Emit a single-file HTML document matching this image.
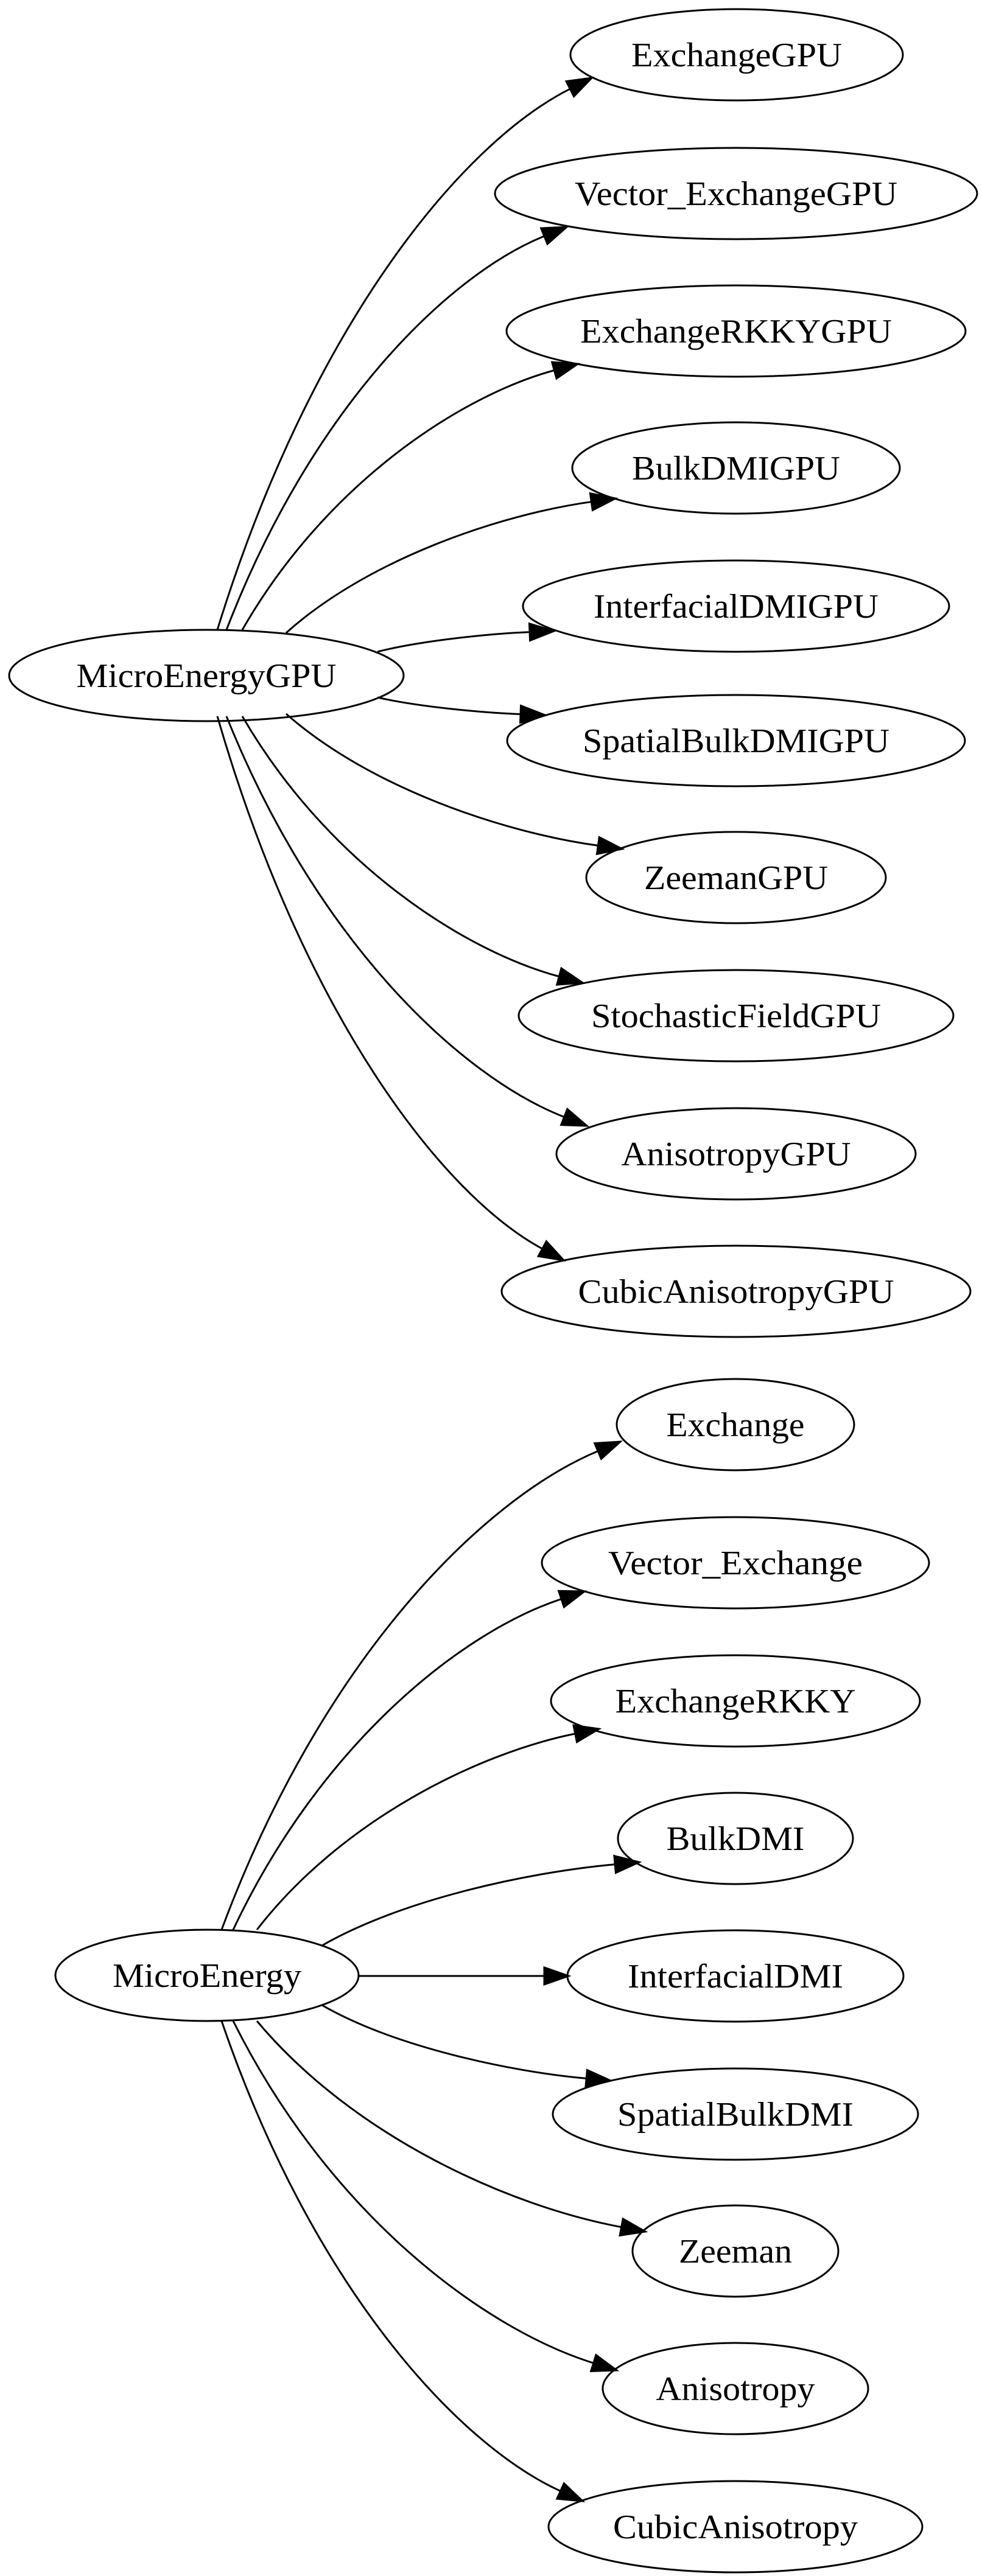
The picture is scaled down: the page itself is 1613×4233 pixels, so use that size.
<!DOCTYPE html>
<html><head><meta charset="utf-8"><style>
html,body{margin:0;padding:0;background:#fff;}
svg{display:block;}
text{font-family:"Liberation Serif",serif;font-size:56px;fill:#000;}
</style></head><body>
<svg id="g" width="1613" height="4233" viewBox="0 0 1613 4233" xmlns="http://www.w3.org/2000/svg">
<rect width="1613" height="4233" fill="#fff"/>
<g fill="none" stroke="#000" stroke-width="3">
<ellipse cx="339" cy="1110" rx="324" ry="75"/>
<ellipse cx="1210" cy="90" rx="273" ry="75"/>
<ellipse cx="1209" cy="318" rx="396" ry="75"/>
<ellipse cx="1209" cy="544" rx="377" ry="75"/>
<ellipse cx="1209" cy="769" rx="269" ry="75"/>
<ellipse cx="1209" cy="996" rx="350" ry="75"/>
<ellipse cx="1209" cy="1217" rx="376" ry="75"/>
<ellipse cx="1209" cy="1442" rx="246" ry="75"/>
<ellipse cx="1209" cy="1669" rx="357" ry="75"/>
<ellipse cx="1209" cy="1896" rx="295" ry="75"/>
<ellipse cx="1209" cy="2122" rx="385" ry="75"/>
<ellipse cx="340" cy="3246" rx="249" ry="75"/>
<ellipse cx="1208" cy="2341" rx="195" ry="75"/>
<ellipse cx="1208" cy="2568" rx="318" ry="75"/>
<ellipse cx="1208" cy="2795" rx="303" ry="75"/>
<ellipse cx="1208" cy="3021" rx="193" ry="75"/>
<ellipse cx="1208" cy="3247" rx="276" ry="75"/>
<ellipse cx="1208" cy="3474" rx="300" ry="75"/>
<ellipse cx="1208" cy="3699" rx="169" ry="75"/>
<ellipse cx="1208" cy="3925" rx="218" ry="75"/>
<ellipse cx="1208" cy="4152" rx="307" ry="75"/>
</g>
<g id="edges"></g>
<g text-anchor="middle">
<text x="339" y="1129" textLength="427" lengthAdjust="spacingAndGlyphs">MicroEnergyGPU</text>
<text x="1210" y="109" textLength="346" lengthAdjust="spacingAndGlyphs">ExchangeGPU</text>
<text x="1209" y="337" textLength="530" lengthAdjust="spacingAndGlyphs">Vector_ExchangeGPU</text>
<text x="1209" y="563" textLength="512" lengthAdjust="spacingAndGlyphs">ExchangeRKKYGPU</text>
<text x="1209" y="788" textLength="342" lengthAdjust="spacingAndGlyphs">BulkDMIGPU</text>
<text x="1209" y="1015" textLength="468" lengthAdjust="spacingAndGlyphs">InterfacialDMIGPU</text>
<text x="1209" y="1236" textLength="504" lengthAdjust="spacingAndGlyphs">SpatialBulkDMIGPU</text>
<text x="1209" y="1461" textLength="302" lengthAdjust="spacingAndGlyphs">ZeemanGPU</text>
<text x="1209" y="1688" textLength="476" lengthAdjust="spacingAndGlyphs">StochasticFieldGPU</text>
<text x="1209" y="1915" textLength="377" lengthAdjust="spacingAndGlyphs">AnisotropyGPU</text>
<text x="1209" y="2141" textLength="519" lengthAdjust="spacingAndGlyphs">CubicAnisotropyGPU</text>
<text x="340" y="3265" textLength="310" lengthAdjust="spacingAndGlyphs">MicroEnergy</text>
<text x="1208" y="2360" textLength="227" lengthAdjust="spacingAndGlyphs">Exchange</text>
<text x="1208" y="2587" textLength="418" lengthAdjust="spacingAndGlyphs">Vector_Exchange</text>
<text x="1208" y="2814" textLength="395" lengthAdjust="spacingAndGlyphs">ExchangeRKKY</text>
<text x="1208" y="3040" textLength="227" lengthAdjust="spacingAndGlyphs">BulkDMI</text>
<text x="1208" y="3266" textLength="354" lengthAdjust="spacingAndGlyphs">InterfacialDMI</text>
<text x="1208" y="3493" textLength="388" lengthAdjust="spacingAndGlyphs">SpatialBulkDMI</text>
<text x="1208" y="3718" textLength="186" lengthAdjust="spacingAndGlyphs">Zeeman</text>
<text x="1208" y="3944" textLength="261" lengthAdjust="spacingAndGlyphs">Anisotropy</text>
<text x="1208" y="4171" textLength="402" lengthAdjust="spacingAndGlyphs">CubicAnisotropy</text>
</g>
</svg>
<script>
var E=[
[357,1035,972,128],[372,1035,931,373],[398,1035,949,598],[470,1040,1011,819],[620,1071,910,1037],
[620,1146,895,1175],[470,1173,1022,1395],[398,1177,957,1615],[372,1177,964,1850],[357,1177,926,2071],
[364,3171,1019,2369],[383,3171,960,2615],[422,3171,984,2841],[529,3197,1050,3060],[589,3247,934,3247],
[529,3295,1003,3419],[422,3321,1060,3667],[383,3321,1013,3895],[364,3321,957,4110]];
var s='';
E.forEach(function(e){
var sx=e[0],sy=e[1],ex=e[2],ey=e[3],dx=ex-sx,dy=ey-sy;
var c1x=sx+0.25*dx,c1y=sy+0.55*dy,c2x=sx+0.65*dx,c2y=sy+0.88*dy;
var vx=ex-c2x,vy=ey-c2y,n=Math.hypot(vx,vy),ux=vx/n,uy=vy/n;
var bx=ex-40*ux,by=ey-40*uy,px=-uy*14,py=ux*14;
s+='<path d="M'+sx+','+sy+' C'+c1x+','+c1y+' '+c2x+','+c2y+' '+bx+','+by+'" fill="none" stroke="#000" stroke-width="3"/>';
s+='<polygon points="'+ex+','+ey+' '+(bx+px)+','+(by+py)+' '+(bx-px)+','+(by-py)+'" fill="#000" stroke="#000" stroke-width="3"/>';
});
document.getElementById('edges').innerHTML=s;
</script>
</body></html>
